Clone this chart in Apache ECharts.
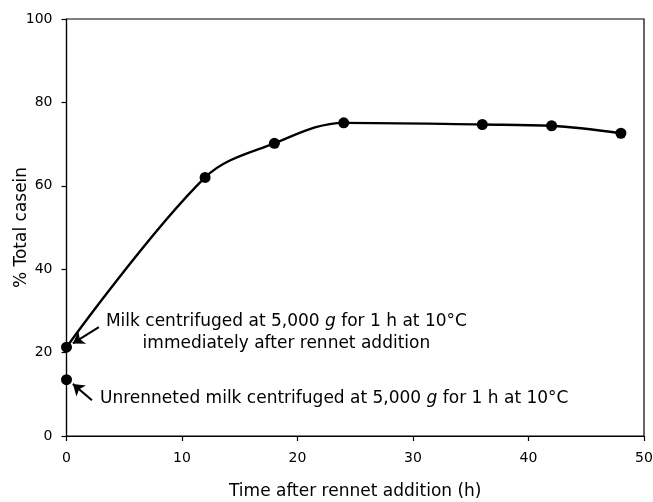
<!DOCTYPE html>
<html lang="en">
<head>
<meta charset="UTF-8">
<title>Casein</title>
<script src="https://cdn.jsdelivr.net/npm/echarts@6/dist/echarts.min.js"></script>
<style>
  body{ margin:0; background:#fff; }
  #main{ width:653px; height:502px; }
</style>
</head>
<body>
<div id="main"></div>
<script>
  // data
  let hours = [0, 12, 18, 24, 36, 42, 48]
  let casein = [21.3, 62.0, 70.2, 75.1, 74.7, 74.4, 72.6]
  let unrennetedPt = [0, 13.5]
  let xTicks = [0, 10, 20, 30, 40, 50]
  let yTicks = [0, 20, 40, 60, 80, 100]

  let font = 'DejaVu Sans, sans-serif'
  var myChart = echarts.init(document.getElementById('main'))

  let option = {
    animation: false,
    grid: {
      left: 66.5, right: 9, top: 19, bottom: 66,
      outerBoundsMode: 'none',
      show: true, borderColor: '#000', borderWidth: 1.2
    },
    xAxis: {
      type: 'value', min: xTicks[0], max: xTicks[xTicks.length - 1], interval: 10,
      name: 'Time after rennet addition (h)', nameLocation: 'middle', nameGap: 47,
      nameMoveOverlap: false,
      nameTextStyle: { fontFamily: font, fontSize: 17, color: '#000' },
      axisLine: { lineStyle: { color: '#000', width: 1.2 } },
      axisTick: { show: true, length: 5, lineStyle: { color: '#000', width: 1.2 } },
      axisLabel: { fontFamily: font, fontSize: 14, color: '#000', margin: 15 },
      splitLine: { show: false }
    },
    yAxis: {
      type: 'value', min: yTicks[0], max: yTicks[yTicks.length - 1], interval: 20,
      name: '% Total casein', nameLocation: 'middle', nameGap: 36,
      nameMoveOverlap: false,
      nameTextStyle: { fontFamily: font, fontSize: 17, color: '#000' },
      axisLine: { show: true, lineStyle: { color: '#000', width: 1.2 } },
      axisTick: { show: true, length: 5, lineStyle: { color: '#000', width: 1.2 } },
      axisLabel: { fontFamily: font, fontSize: 14, color: '#000', margin: 14 },
      splitLine: { show: false }
    },
    series: [
      {
        type: 'line',
        data: hours.map((h, i) => [h, casein[i]]),
        smooth: 0.35,
        symbol: 'circle', symbolSize: 11,
        itemStyle: { color: '#000' },
        lineStyle: { color: '#000', width: 2.4 },
        z: 3
      },
      {
        type: 'scatter',
        data: [unrennetedPt],
        symbol: 'circle', symbolSize: 11,
        itemStyle: { color: '#000', opacity: 1 },
        z: 3,
        markLine: {
          silent: true,
          symbol: ['none', 'arrow'],
          symbolSize: 11,
          label: { show: false },
          lineStyle: { color: '#000', width: 2, type: 'solid', opacity: 1 },
          data: [
            [{ coord: [2.8, 26.1] }, { coord: [0.55, 22.2] }],
            [{ coord: [2.2, 8.6] }, { coord: [0.55, 12.5] }]
          ]
        }
      }
    ]
  }
  myChart.setOption(option)

  // annotation text placed from data coordinates
  let p1 = myChart.convertToPixel('grid', [19.04, 24.9])
  let p2 = myChart.convertToPixel('grid', [2.9, 8.9])
  let rich = {
    n: { fontFamily: font, fontSize: 17, fill: '#000', lineHeight: 22 },
    i: { fontFamily: font, fontSize: 17, fill: '#000', fontStyle: 'italic', lineHeight: 22 }
  }
  myChart.setOption({
    graphic: [
      {
        type: 'text', x: p1[0], y: p1[1],
        style: {
          text: '{n|Milk centrifuged at 5,000 }{i|g}{n| for 1 h at 10°C}\n{n|immediately after rennet addition}',
          rich: rich, align: 'center', verticalAlign: 'middle'
        }
      },
      {
        type: 'text', x: p2[0], y: p2[1],
        style: {
          text: '{n|Unrenneted milk centrifuged at 5,000 }{i|g}{n| for 1 h at 10°C}',
          rich: rich, align: 'left', verticalAlign: 'middle'
        }
      }
    ]
  })
</script>
</body>
</html>
